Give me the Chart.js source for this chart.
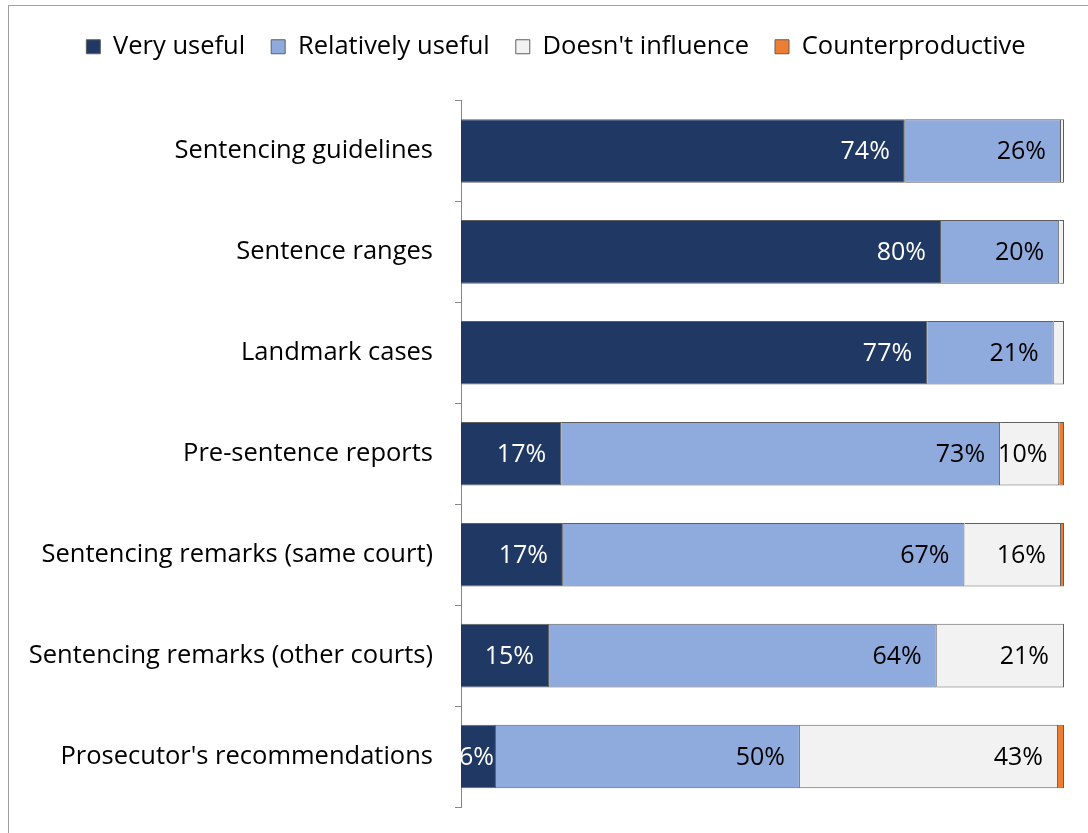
<!DOCTYPE html>
<html><head><meta charset="utf-8">
<script src="https://cdn.jsdelivr.net/npm/chart.js@4.4.1/dist/chart.umd.min.js"></script>
<style>
html,body{margin:0;padding:0;background:#fff;overflow:hidden}
#wrap{position:relative;width:1088px;height:833px}
#frame{position:absolute;left:8px;top:5px;width:1200px;height:1000px;border:1px solid #a0a0a0}
canvas{position:absolute;left:0;top:0}
</style></head>
<body><div id="wrap"><div id="frame"></div><canvas id="c" width="1088" height="833"></canvas></div>
<script>
const categories = ["Sentencing guidelines","Sentence ranges","Landmark cases","Pre-sentence reports","Sentencing remarks (same court)","Sentencing remarks (other courts)","Prosecutor's recommendations"];
const seriesNames = ["Very useful","Relatively useful","Doesn't influence","Counterproductive"];
const veryUseful = [73.6, 79.6, 77.3, 16.6, 16.9, 14.6, 5.8];
const relativelyUseful = [25.9, 19.6, 21.0, 72.8, 66.6, 64.3, 50.4];
const doesntInfluence = [0.5, 0.8, 1.7, 9.8, 16.0, 21.1, 42.8];
const counterproductive = [0, 0, 0, 0.8, 0.5, 0, 1.0];

const FONT = '"Open Sans"';
const FS = 25.5;
const colors = ['#1f3864','#8faadc','#f2f2f2','#ed7d31'];
const labelColors = ['#ffffff','#000000','#000000','#000000'];
const seriesData = [veryUseful, relativelyUseful, doesntInfluence, counterproductive];

const valueLabels = {
  id:'valueLabels',
  afterDatasetsDraw(chart){
    const ctx = chart.ctx;
    ctx.save();
    ctx.font = '25px ' + FONT;
    ctx.textBaseline = 'middle';
    ctx.textAlign = 'right';
    chart.data.datasets.forEach((ds,i)=>{
      const meta = chart.getDatasetMeta(i);
      meta.data.forEach((bar,j)=>{
        const v = Math.round(ds.data[j]);
        if (v < 5) return;
        const txt = v + '%';
        const w = ctx.measureText(txt).width;
        const start = Math.min(bar.base, bar.x);
        let x = bar.x - 15;
        if (x - w < start) x = start + w - 2;
        ctx.fillStyle = labelColors[i];
        ctx.fillText(txt, x, bar.y + 1);
      });
    });
    ctx.restore();
  }
};

const legendSpacer = {
  id:'legendSpacer',
  beforeInit(chart){
    const lg = chart.legend;
    if (!lg) return;
    const fit = lg.fit;
    lg.fit = function(){ fit.call(this); this.height += 31; };
  },
  afterLayout(chart){
    const lg = chart.legend;
    if (!lg) return;
    lg.left += 24; lg.right += 24;
  }
};

new Chart(document.getElementById('c'), {
  type:'bar',
  data:{
    labels: categories,
    datasets: seriesNames.map((n,i)=>({
      label:n, data:seriesData[i], backgroundColor:colors[i], borderColor:'#5f5f5f', borderWidth:1,
      barPercentage:0.63, categoryPercentage:1
    }))
  },
  options:{
    indexAxis:'y', responsive:false, animation:false,
    layout:{padding:{top:8,right:24,bottom:26,left:0}},
    plugins:{
      legend:{position:'top', labels:{font:{family:'Open Sans',size:FS}, color:'#000', boxWidth:14, boxHeight:14, padding:26}},
      tooltip:{enabled:false}
    },
    scales:{
      x:{stacked:true, min:0, max:100, display:false},
      y:{stacked:true,
         afterFit(s){ s.width = 461; s.paddingTop = 0; s.paddingBottom = 0; },
         border:{display:true,color:'#868686',width:1},
         grid:{drawOnChartArea:false, tickLength:6, color:'#868686', offset:true},
         ticks:{font:{family:'Open Sans',size:FS}, color:'#000', padding:22}
      }
    }
  },
  plugins:[valueLabels, legendSpacer]
});
</script>
</body></html>
